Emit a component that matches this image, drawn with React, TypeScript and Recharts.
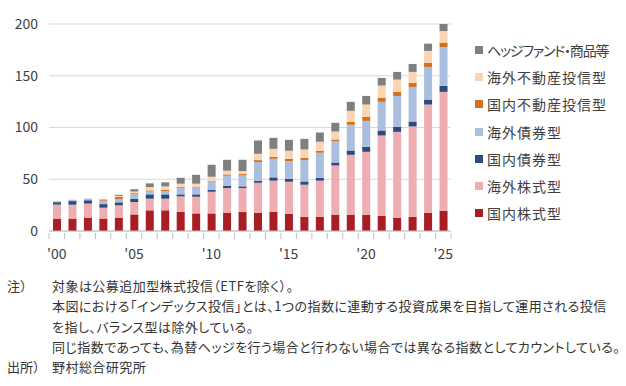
import * as React from "react"
import { BarChart, Bar, XAxis, YAxis, CartesianGrid } from "recharts"

const years = [
  "00", "01", "02", "03", "04", "05", "06", "07", "08", "09",
  "10", "11", "12", "13", "14", "15", "16", "17", "18", "19",
  "20", "21", "22", "23", "24", "25",
]

const domesticEquity = [12, 12, 13, 12, 13, 16, 20, 20, 18.6, 17, 17, 17.7, 18.3, 17.7, 18.6, 16.7, 13.8, 13.8, 15.8, 15.8, 15.8, 14.8, 12.9, 13.8, 17.7, 19.6]
const overseasEquity = [13.5, 13.4, 13.5, 10.5, 11.8, 12, 11.2, 11.2, 14.8, 16.1, 20.9, 23.8, 23.2, 28.9, 30, 30.9, 30.9, 34.8, 47.5, 57.8, 60.7, 77.5, 82.9, 87.2, 104.5, 114.8]
const domesticBond = [2.3, 3.5, 3.2, 3.5, 2.9, 3, 4.2, 4.2, 2, 2.3, 2, 2.2, 1.6, 2, 3.2, 2.9, 3.2, 2.8, 2.9, 4.2, 4.9, 4.8, 4.8, 4.8, 4.8, 5.8]
const overseasBond = [1, 1.3, 1.6, 3, 3.2, 4.5, 2.9, 3.2, 6.4, 6.7, 8, 9.7, 10.6, 18, 18, 17, 20.6, 24.2, 20.6, 24.8, 25, 27.7, 29.9, 33.4, 31.5, 37.6]
const domesticReit = [0, 0, 0, 0.8, 1.9, 1, 0.9, 1.3, 1, 0.7, 0.6, 1.3, 1.3, 1.9, 1.9, 2.3, 2.2, 1.9, 1.6, 2.9, 3.9, 3.8, 3.9, 3.9, 4.2, 4.2]
const overseasReit = [0, 0, 0, 0.5, 1.2, 1.6, 3.2, 3.2, 2.9, 2.9, 3.9, 3.5, 2.9, 6.1, 7.7, 7.7, 8.1, 8.7, 7.7, 10.6, 11.9, 11.9, 11.9, 10.6, 11.3, 11.2]
const hedgeFund = [0, 0, 0, 0.4, 1, 2.3, 3.6, 3.9, 5.7, 8.6, 11.6, 10.6, 10.9, 12.9, 10.6, 10.6, 10.2, 9, 8.4, 8.7, 8.3, 7.4, 7.4, 7.7, 7, 6.8]

const yTicks = [0, 50, 100, 150, 200]

const series = [
  { key: "domesticEquity", label: "国内株式型", color: "#a81e22", values: domesticEquity },
  { key: "overseasEquity", label: "海外株式型", color: "#eeaeb1", values: overseasEquity },
  { key: "domesticBond", label: "国内債券型", color: "#2e4a7d", values: domesticBond },
  { key: "overseasBond", label: "海外債券型", color: "#aabfe0", values: overseasBond },
  { key: "domesticReit", label: "国内不動産投信型", color: "#d5701c", values: domesticReit },
  { key: "overseasReit", label: "海外不動産投信型", color: "#fbd5b3", values: overseasReit },
  { key: "hedgeFund", label: "ヘッジファンド・商品等", color: "#7f7f7f", values: hedgeFund },
]

const notes = [
  { head: "注）", text: "対象は公募追加型株式投信（ETFを除く）。" },
  { head: "", text: "本図における「インデックス投信」とは、1つの指数に連動する投資成果を目指して運用される投信" },
  { head: "", text: "を指し、バランス型は除外している。" },
  { head: "", text: "同じ指数であっても、為替ヘッジを行う場合と行わない場合では異なる指数としてカウントしている。" },
  { head: "出所）", text: "野村総合研究所" },
]

const data = years.map((y, i) => {
  const row: Record<string, any> = { year: y }
  series.forEach((s) => (row[s.key] = s.values[i]))
  return row
})

const FONT = '"Noto Sans CJK JP", "Noto Sans", sans-serif'
const CHART_W = 626
const MARGIN = { top: 24, right: 175, bottom: 6, left: 0 }
const Y_AXIS_W = 49
const band = (CHART_W - MARGIN.left - MARGIN.right - Y_AXIS_W) / years.length

function YearTick(props: any) {
  const { x, y, payload, index } = props
  const half = band / 2
  return (
    <g>
      <line x1={x - half} x2={x - half} y1={y} y2={y + 6} stroke="#bfbfbf" />
      {index === years.length - 1 && (
        <line x1={x + half} x2={x + half} y1={y} y2={y + 6} stroke="#bfbfbf" />
      )}
      {index % 5 === 0 && (
        <text x={x} y={y + 26} textAnchor="middle" fill="#404040" fontSize={14} fontFamily={FONT}>
          {"'" + payload.value}
        </text>
      )}
    </g>
  )
}

export default function App() {
  return (
    <div
      style={{
        position: "absolute",
        left: 0,
        top: 0,
        width: 626,
        height: 386,
        background: "#fff",
        fontFamily: FONT,
        color: "#333",
      }}
    >
      <BarChart width={CHART_W} height={262} data={data} margin={MARGIN} barSize={8}>
        <CartesianGrid vertical={false} stroke="#d9d9d9" />
        <XAxis
          dataKey="year"
          interval={0}
          tickLine={false}
          tickSize={0}
          axisLine={{ stroke: "#bfbfbf" }}
          height={25}
          tick={<YearTick />}
        />
        <YAxis
          width={Y_AXIS_W}
          domain={[0, 200]}
          ticks={yTicks}
          axisLine={false}
          tickLine={false}
          tickMargin={5}
          tick={{ fill: "#404040", fontSize: 14, fontFamily: FONT }}
        />
        {series.map((s) => (
          <Bar
            key={s.key}
            dataKey={s.key}
            name={s.label}
            stackId="total"
            fill={s.color}
            isAnimationActive={false}
          />
        ))}
      </BarChart>

      {/* legend, top item first as in the source */}
      <div style={{ position: "absolute", left: 475, top: 36 }}>
        {[...series].reverse().map((s) => (
          <div
            key={s.key}
            style={{ display: "flex", alignItems: "center", height: 27.3, whiteSpace: "nowrap" }}
          >
            <span style={{ width: 8, height: 8, background: s.color, marginRight: 4, flex: "none" }} />
            <span
              style={{
                fontSize: 14,
                letterSpacing: s.key === "hedgeFund" ? -1.2 : 1,
                color: "#404040",
                fontFeatureSettings: '"palt"',
              }}
            >
              {s.label}
            </span>
          </div>
        ))}
      </div>

      <div style={{ position: "absolute", left: 0, top: 276, fontSize: 13 }}>
        {notes.map((n, i) => (
          <div key={i} style={{ display: "flex", height: 20.3, lineHeight: "20px", whiteSpace: "nowrap" }}>
            <span style={{ width: 52, paddingLeft: 7, boxSizing: "border-box", flex: "none" }}>{n.head}</span>
            <span style={{ fontFeatureSettings: '"palt"', letterSpacing: 0.45 }}>{n.text}</span>
          </div>
        ))}
      </div>
    </div>
  )
}
